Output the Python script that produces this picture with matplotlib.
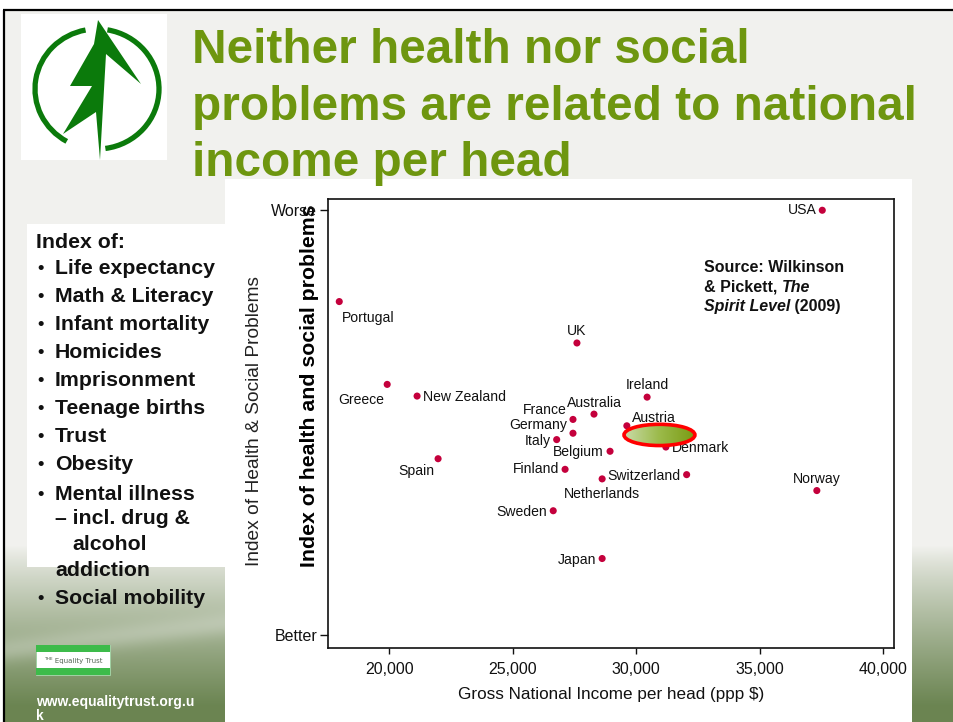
import numpy as np
import matplotlib
matplotlib.use('Agg')
import matplotlib.pyplot as plt
from matplotlib import font_manager
from matplotlib.patches import Rectangle, Ellipse, Polygon, Arc
from matplotlib.colors import LinearSegmentedColormap
from matplotlib.ticker import FuncFormatter

# ---------------- data ----------------
countries = ['USA', 'Portugal', 'UK', 'Greece', 'New Zealand', 'Ireland', 'Australia',
             'France', 'Germany', 'Austria', 'Italy', 'Denmark', 'Belgium', 'Spain',
             'Finland', 'Switzerland', 'Netherlands', 'Norway', 'Sweden', 'Japan']
gni = [37530, 17980, 27600, 19920, 21130, 30440, 28290,
       27440, 27440, 29620, 26780, 31200, 28940, 21980,
       27120, 32040, 28620, 37310, 26640, 28620]
index_score = [2.00, 1.14, 0.75, 0.36, 0.25, 0.24, 0.08,
               0.03, -0.10, -0.03, -0.16, -0.23, -0.27, -0.34,
               -0.44, -0.49, -0.53, -0.64, -0.83, -1.28]
x_ticks = [20000, 25000, 30000, 35000, 40000]
y_ticks = [-2, 2]
y_ticklabels = ['Better', 'Worse']

title_lines = ['Neither health nor social', 'problems are related to national', 'income per head']
index_header = 'Index of:'
index_items = ['Life expectancy', 'Math & Literacy', 'Infant mortality', 'Homicides',
               'Imprisonment', 'Teenage births', 'Trust', 'Obesity', 'Mental illness',
               '\u2013 incl. drug &', 'alcohol', 'addiction', 'Social mobility']
index_bullets = [True, True, True, True, True, True, True, True, True, False, False, False, True]

# label placement: dx, dy in pixels (dy positive = downwards), horizontal alignment
label_pos = {
    'USA': (-6, 0, 'right'), 'Portugal': (3, 16, 'left'), 'UK': (0, -12, 'center'),
    'Greece': (-3, 16, 'right'), 'New Zealand': (6, 1, 'left'), 'Ireland': (0, -12, 'center'),
    'Australia': (0, -11, 'center'), 'France': (-6, -9, 'right'), 'Germany': (-6, -8, 'right'),
    'Austria': (5, -8, 'left'), 'Italy': (-6, 1, 'right'), 'Denmark': (6, 1, 'left'),
    'Belgium': (-6, 1, 'right'), 'Spain': (-4, 12, 'right'), 'Finland': (-6, 0, 'right'),
    'Switzerland': (-6, 1, 'right'), 'Netherlands': (0, 15, 'center'), 'Norway': (0, -12, 'center'),
    'Sweden': (-6, 1, 'right'), 'Japan': (-6, 1, 'right'),
}

W, H = 954, 722
fig = plt.figure(figsize=(W / 100, H / 100), dpi=100)


def has_font(name, **kw):
    try:
        font_manager.findfont(font_manager.FontProperties(family=name, **kw), fallback_to_default=False)
        return True
    except Exception:
        return False


SANS = 'Liberation Sans' if has_font('Liberation Sans') else 'DejaVu Sans'

# ---------------- background ----------------
bg = fig.add_axes([0, 0, 1, 1], zorder=0)
bg.set_xlim(0, W)
bg.set_ylim(H, 0)
bg.axis('off')

yy, xx = np.mgrid[0:H, 0:W].astype(float)
light = np.array([0.949, 0.949, 0.937])
green = np.array([0.42, 0.52, 0.32])
t = np.clip((yy - 545) / 160.0, 0, 1) ** 0.85
img = light[None, None, :] * (1 - t[..., None]) + green[None, None, :] * t[..., None]
yc = 650 - 0.12 * xx
hl = 0.25 * np.exp(-((yy - yc) / 12.0) ** 2) * (t > 0.05)
img = img * (1 - hl[..., None]) + hl[..., None] * 0.97
img[:9, :, :] = 1.0
img[:, :3, :] = 1.0
bg.imshow(img, extent=(0, W, H, 0), aspect='auto', interpolation='bilinear', zorder=0)
bg.plot([3, W], [10, 10], color='black', lw=1.6, zorder=1, solid_capstyle='butt')
bg.plot([4, 4], [10, H], color='black', lw=1.6, zorder=1, solid_capstyle='butt')

# white panels
bg.add_patch(Rectangle((225, 179), 912 - 225, H - 179, facecolor='white', edgecolor='none', zorder=2))
bg.add_patch(Rectangle((27, 224), 225 - 27, 567 - 224, facecolor='white', edgecolor='none', zorder=2))
bg.add_patch(Rectangle((21, 14), 167 - 21, 160 - 14, facecolor='white', edgecolor='none', zorder=2))

# logo (ring + spear)
logo_green = '#0b7a0b'
bg.add_patch(Arc((97, 89), 124, 120, theta1=-80, theta2=82, color=logo_green, lw=3.8, zorder=3))
bg.add_patch(Arc((97, 89), 124, 120, theta1=120, theta2=259, color=logo_green, lw=3.8, zorder=3))
bg.add_patch(Polygon([(98, 20), (141, 84), (106, 54), (100, 160), (96, 112), (63, 134),
                      (92, 86), (70, 86), (94, 44)], closed=True, facecolor=logo_green,
                     edgecolor='none', zorder=4))

# title (fitted to the reference line width)
title_color = '#6e960f'
tts = []
for ln, yb in zip(title_lines, [63, 120, 176]):
    tts.append(bg.text(192, yb, ln, fontsize=36, fontweight='bold', family=SANS,
                       color=title_color, ha='left', va='baseline', zorder=6))
renderer = fig.canvas.get_renderer()
w2 = tts[1].get_window_extent(renderer).width
fs_title = 36 * 725.0 / w2
for tt in tts:
    tt.set_fontsize(fs_title)

# left list
bg.text(36, 242, index_header, fontsize=15.3, fontweight='bold', family=SANS,
        color='#111111', ha='left', va='center', zorder=6)
item_y = [268, 296, 325, 353, 381, 409, 437, 465, 494, 519, 545, 570, 599]
item_x = [55, 55, 55, 55, 55, 55, 55, 55, 55, 55, 72, 55, 55]
for txt, b, yv, xv in zip(index_items, index_bullets, item_y, item_x):
    if b:
        bg.text(37, yv, '\u2022', fontsize=13, fontweight='bold', family=SANS,
                color='#111111', ha='left', va='center', zorder=6)
    bg.text(xv, yv, txt, fontsize=15.3, fontweight='bold', family=SANS,
            color='#111111', ha='left', va='center', zorder=6)

# equality trust mini logo
bg.add_patch(Rectangle((36, 645), 74, 30, facecolor='white', edgecolor='#9ad19f', lw=0.6, zorder=5))
bg.add_patch(Rectangle((36, 645), 74, 7, facecolor='#3dbb4a', edgecolor='none', zorder=6))
bg.add_patch(Rectangle((36, 668), 74, 7, facecolor='#3dbb4a', edgecolor='none', zorder=6))
bg.text(73, 660, '\u1d40\u1d34\u1d31 Equality Trust', fontsize=5, family=['DejaVu Sans'],
        color='#556655', ha='center', va='center', zorder=7)
bg.text(36, 702, 'www.equalitytrust.org.u', fontsize=10, fontweight='bold', family=SANS,
        color='white', ha='left', va='center', zorder=6)
bg.text(36, 716, 'k', fontsize=10, fontweight='bold', family=SANS,
        color='white', ha='left', va='center', zorder=6)

# y axis titles
yl1 = bg.text(255, 421, 'Index of Health & Social Problems', rotation=90, fontsize=13.5,
              family=SANS, color='#222222', ha='center', va='center', zorder=6)
yl2 = bg.text(310, 386, 'Index of health and social problems', rotation=90, fontsize=15.3,
              fontweight='bold', family=SANS, color='#000000', ha='center', va='center', zorder=8)
for tobj, target in [(yl1, 290.0), (yl2, 362.0)]:
    h = tobj.get_window_extent(renderer).height
    tobj.set_fontsize(tobj.get_fontsize() * target / h)

# ---------------- main chart ----------------
L, R, T, B = 327.5, 894.0, 199.0, 647.5
ax = fig.add_axes([L / W, 1 - B / H, (R - L) / W, (B - T) / H], zorder=5)
ax.set_facecolor('white')
ax.patch.set_alpha(0)
ax.scatter(gni, index_score, s=26, color='#c4003c', edgecolors='none', zorder=4)

for name, xv, yv in zip(countries, gni, index_score):
    dx, dy, ha = label_pos[name]
    ax.annotate(name, (xv, yv), xytext=(dx * 0.72, -dy * 0.72), textcoords='offset points',
                ha=ha, va='center', fontsize=10.1, family=SANS, color='#111111', zorder=4,
                annotation_clip=False)

ax.set_xlim(17504, 40433)
ax.set_ylim(-2.118, 2.106)
ax.set_xticks(x_ticks)
ax.xaxis.set_major_formatter(FuncFormatter(lambda v, p: f'{int(v):,}'))
ax.set_yticks(y_ticks)
ax.set_yticklabels(y_ticklabels)
ax.tick_params(axis='x', length=4.3, width=1.0, pad=6, labelsize=11.5, colors='#111111')
ax.tick_params(axis='y', length=5.8, width=1.0, pad=1.5, labelsize=11.5, colors='#111111')
for lab in ax.get_xticklabels() + ax.get_yticklabels():
    lab.set_family(SANS)
ax.set_xlabel('Gross National Income per head (ppp $)', fontsize=12.3, family=SANS,
              color='#111111', labelpad=7)
for sp in ax.spines.values():
    sp.set_linewidth(1.2)
    sp.set_color('#111111')

# highlight ellipse with gradient
ecx, ecy, ew, eh = 30940, -0.116, 2870, 0.20
ell_clip = Ellipse((ecx, ecy), ew, eh, transform=ax.transData, facecolor='none', edgecolor='none')
ax.add_patch(ell_clip)
gcmap = LinearSegmentedColormap.from_list('gr', ['#c9dba9', '#9bba4a', '#7a9b14'])
gim = ax.imshow(np.linspace(0, 1, 256)[None, :], cmap=gcmap, aspect='auto',
                extent=(ecx - ew / 2, ecx + ew / 2, ecy - eh / 2, ecy + eh / 2),
                zorder=6, interpolation='bilinear')
gim.set_clip_path(ell_clip)
ax.add_patch(Ellipse((ecx, ecy), ew, eh, facecolor='none', edgecolor='#ff0000', lw=2.6, zorder=7))
ax.set_xlim(17504, 40433)
ax.set_ylim(-2.118, 2.106)

# source note (mixed styles)
sx, sy = 704, 268
note_lines = [
    [('Source: Wilkinson', 'normal')],
    [('& Pickett, ', 'normal'), ('The', 'italic')],
    [('Spirit Level', 'italic'), (' (2009)', 'normal')],
]
for i, parts in enumerate(note_lines):
    xcur = sx
    for txt, style in parts:
        tobj = bg.text(xcur, sy + 19 * i, txt, fontsize=11.5, fontweight='bold', style=style,
                       family=SANS, color='#111111', ha='left', va='center', zorder=8)
        bb = tobj.get_window_extent(renderer)
        xcur += bb.width

fig.savefig('out.png', dpi=100)
